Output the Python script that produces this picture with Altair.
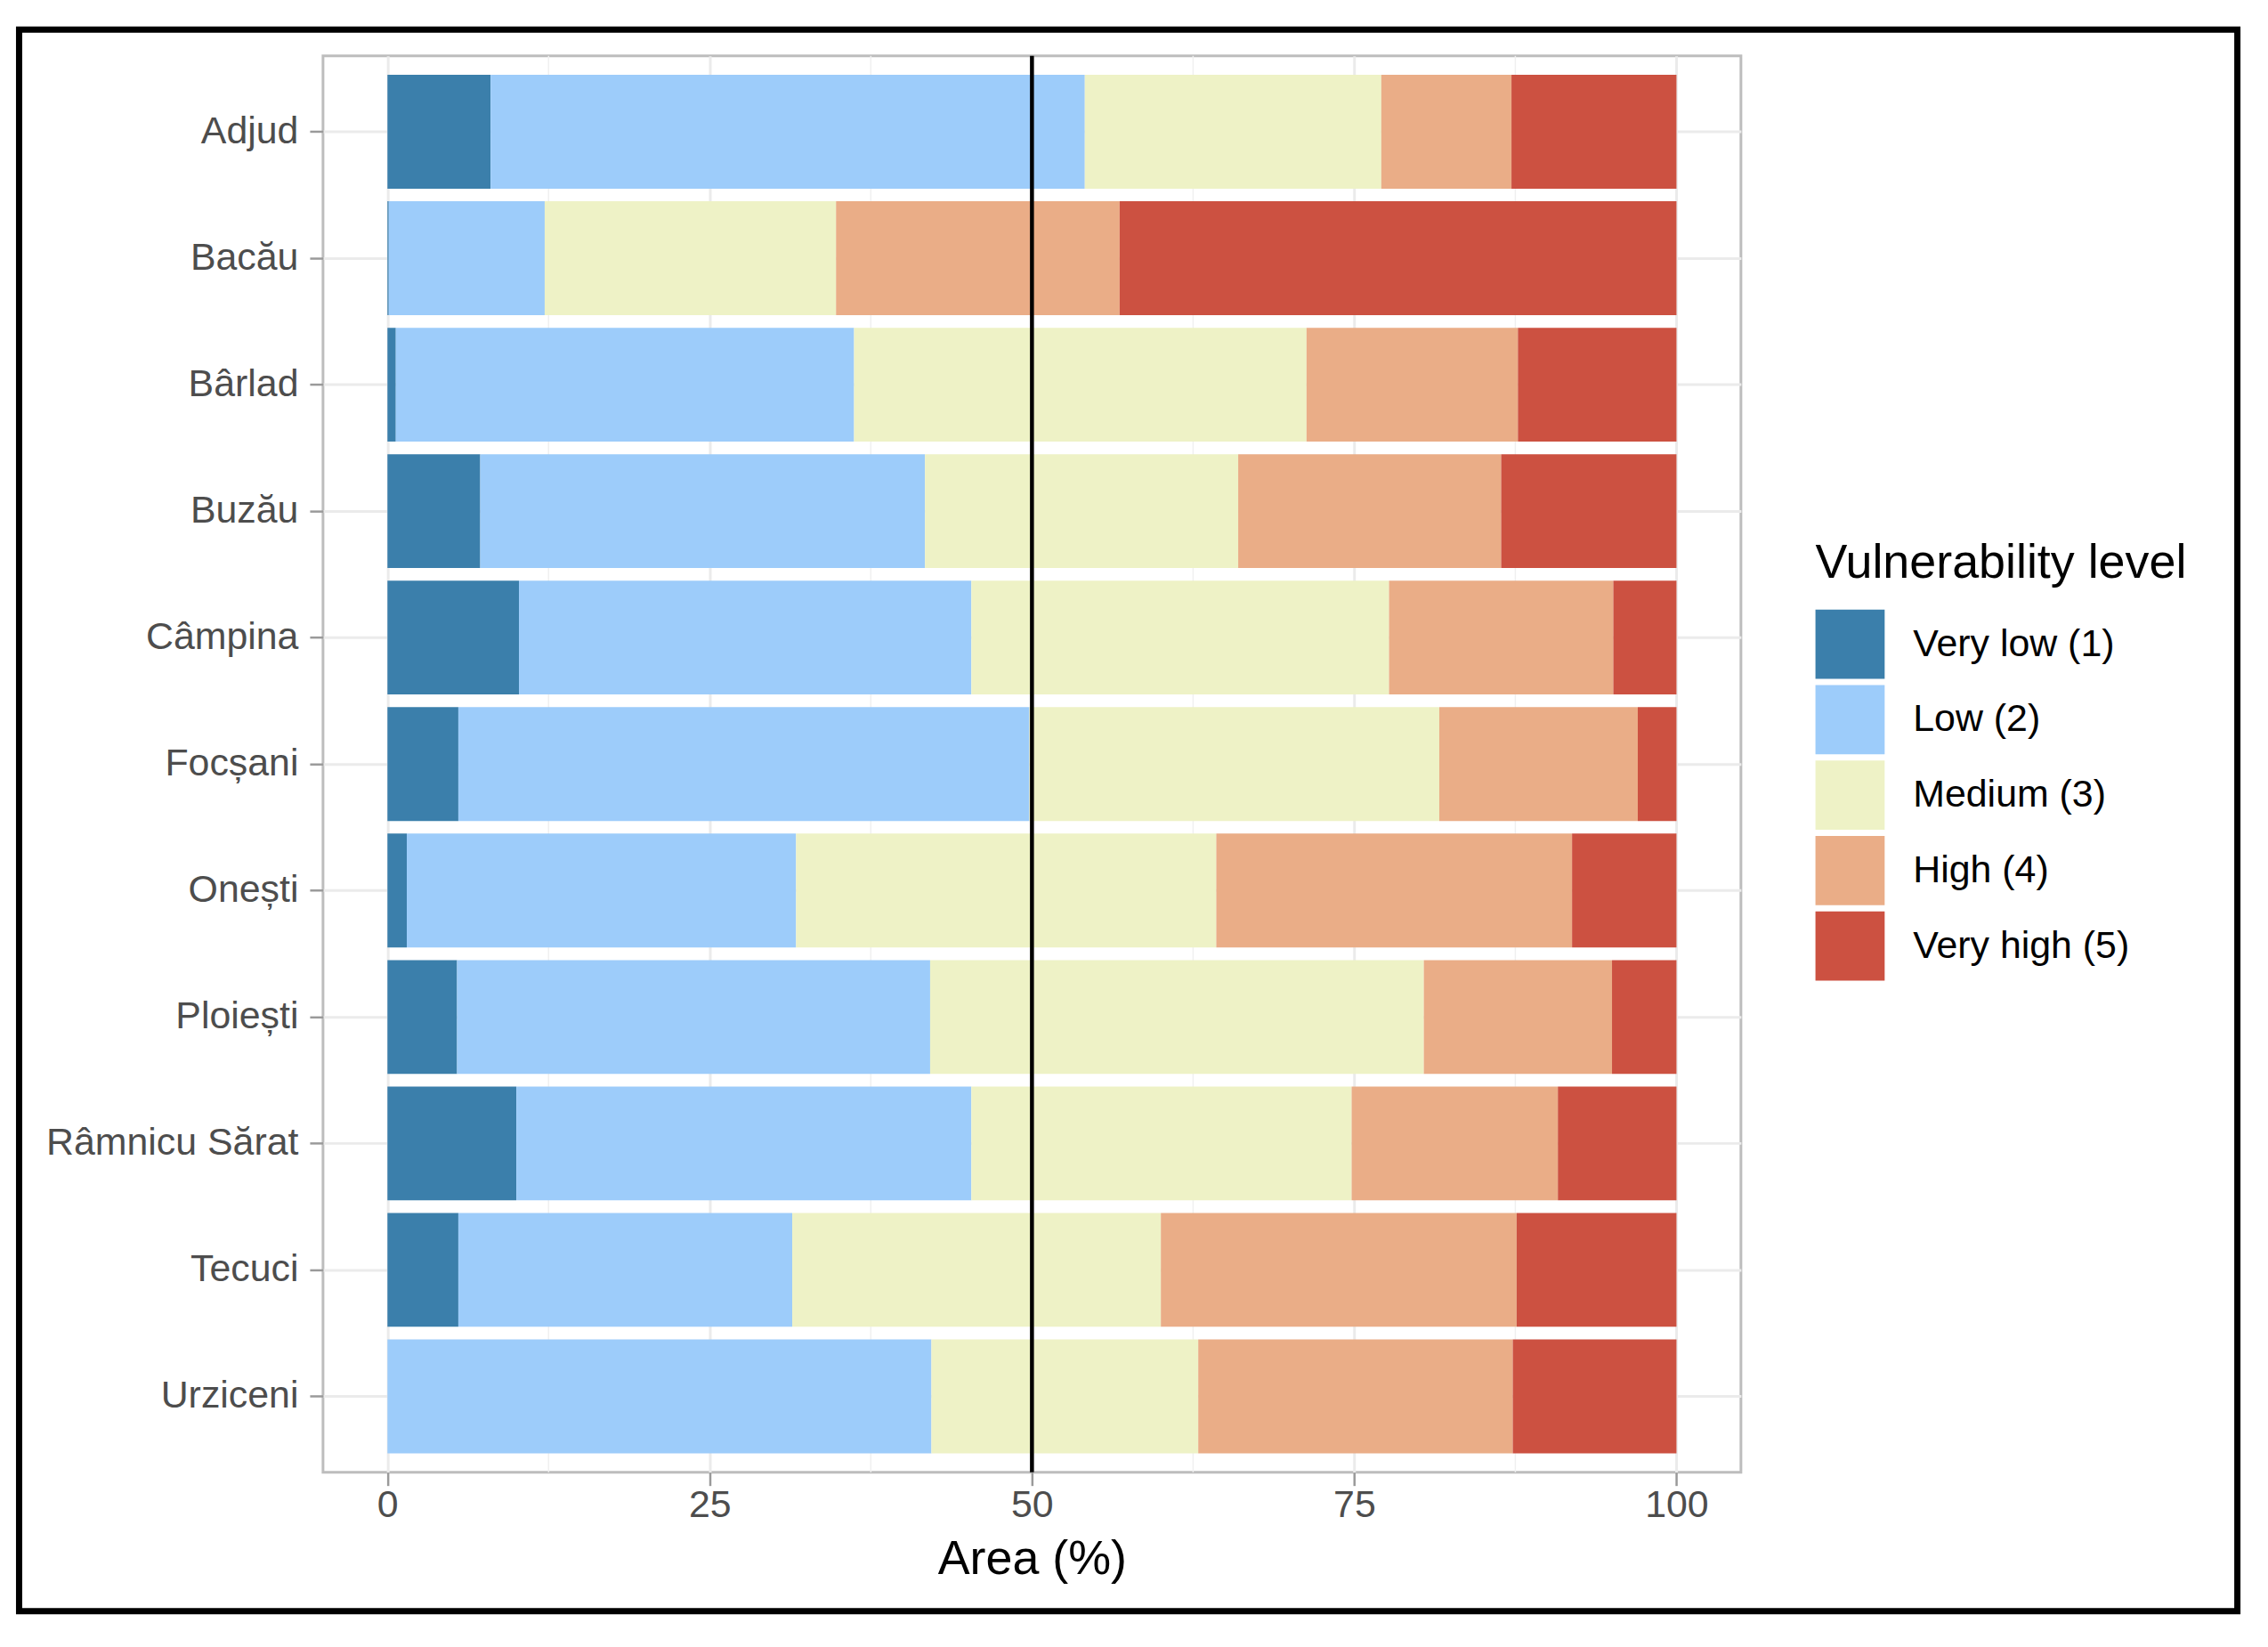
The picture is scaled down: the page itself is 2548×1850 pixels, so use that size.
import altair as alt
import pandas as pd

cities = ["Adjud", "Bacău", "Bârlad", "Buzău", "Câmpina", "Focșani", "Onești",
          "Ploiești", "Râmnicu Sărat", "Tecuci", "Urziceni"]
levels = ["Very low (1)", "Low (2)", "Medium (3)", "High (4)", "Very high (5)"]
colors = ["#3B7FAB", "#9DCCFA", "#EEF2C6", "#EAAD87", "#CC5141"]

very_low = [8.0, 0.1, 0.65, 7.2, 10.2, 5.5, 1.5, 5.4, 10.0, 5.5, 0.0]
low = [46.1, 12.1, 35.55, 34.5, 35.1, 44.3, 30.2, 36.7, 35.3, 25.9, 42.2]
medium = [23.0, 22.6, 35.1, 24.3, 32.4, 31.8, 32.6, 38.3, 29.5, 28.6, 20.7]
high = [10.1, 22.0, 16.4, 20.4, 17.4, 15.4, 27.6, 14.6, 16.0, 27.6, 24.4]
very_high = [12.8, 43.2, 12.3, 13.6, 4.9, 3.0, 8.1, 5.0, 9.2, 12.4, 12.7]

x_ticks = [0, 25, 50, 75, 100]
minor_ticks = [12.5, 37.5, 62.5, 87.5]
ref_line = [50]

series = [very_low, low, medium, high, very_high]
rows = []
for li, (lvl, vals) in enumerate(zip(levels, series)):
    for c, v in zip(cities, vals):
        rows.append({"city": c, "level": lvl, "order": li, "value": v})
df = pd.DataFrame(rows)

W, H = 1598, 1596
FONT = "Liberation Sans"

xscale = alt.Scale(domain=[-5, 105], nice=False, zero=False)
xaxis = alt.Axis(values=x_ticks, title="Area (%)", labelPadding=1, titlePadding=12,
                 grid=True)

minor = alt.Chart(pd.DataFrame({"value": minor_ticks})).mark_rule(
    color="#F0F0F0", strokeWidth=1.5
).encode(x=alt.X("value:Q", scale=xscale, axis=xaxis))

bars = alt.Chart(df).mark_bar().encode(
    x=alt.X("value:Q", stack="zero", scale=xscale, axis=xaxis),
    y=alt.Y("city:N", sort=cities,
            scale=alt.Scale(paddingInner=0.1, paddingOuter=0.15),
            axis=alt.Axis(title=None, labelPadding=13, grid=True, bandPosition=0.5)),
    color=alt.Color("level:N", sort=levels,
                    scale=alt.Scale(domain=levels, range=colors),
                    legend=alt.Legend(title="Vulnerability level", orient="none",
                                      legendX=1682, legendY=545)),
    order=alt.Order("order:Q", sort="ascending"),
)

vline = alt.Chart(pd.DataFrame({"value": ref_line})).mark_rule(
    color="black", strokeWidth=4.5
).encode(x=alt.X("value:Q", scale=xscale, axis=xaxis))

frame = alt.Chart(pd.DataFrame({"value": [0]})).mark_rect(
    fillOpacity=0, stroke="black", strokeWidth=7
).encode(x=alt.value(-342.5), x2=alt.value(2157.5),
         y=alt.value(-29.5), y2=alt.value(1752.5))

chart = alt.layer(minor, bars, vline, frame).properties(
    width=W, height=H,
    autosize=alt.AutoSizeParams(type="none"),
    padding={"left": 356, "top": 52, "right": 586, "bottom": 194},
    background="white",
).configure_view(
    stroke="#BDBDBD", strokeWidth=3
).configure_axis(
    labelFont=FONT, labelFontSize=43, labelColor="#4D4D4D", labelLimit=0,
    titleFont=FONT, titleFontSize=54, titleFontWeight="normal", titleColor="black",
    tickColor="#9A9A9A", tickSize=15, tickWidth=2.5,
    domain=False, gridColor="#EBEBEB", gridWidth=3,
).configure_legend(
    titleFont=FONT, titleFontSize=54, titleFontWeight="normal", titleColor="black",
    titleLimit=0, labelLimit=0,
    labelFont=FONT, labelFontSize=43, labelColor="black",
    symbolType="square", symbolSize=6084, symbolStrokeWidth=0, symbolOpacity=1,
    rowPadding=7, labelOffset=32, titlePadding=25, padding=0,
)

chart.save("out.html", embed_options={"renderer": "svg", "actions": False})
